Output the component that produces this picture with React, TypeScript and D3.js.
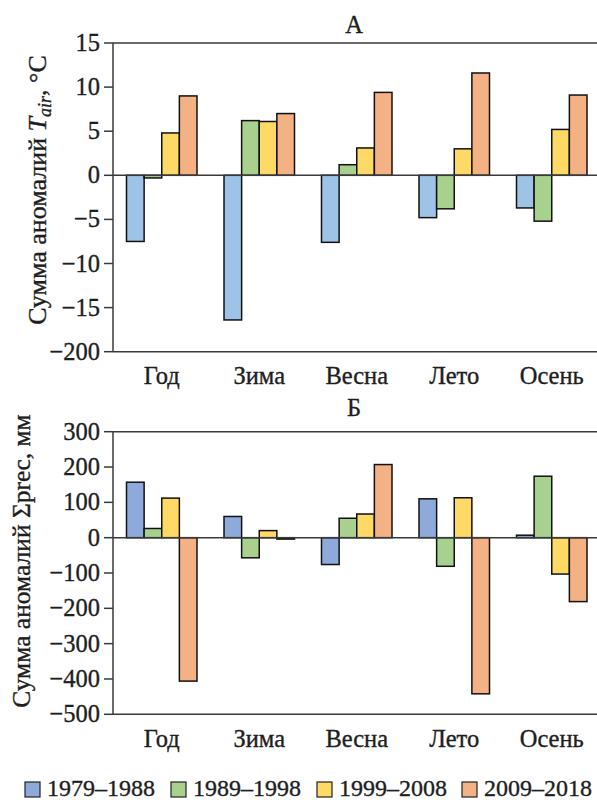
import React from "react";
import * as d3 from "d3";

const categories = ["Год", "Зима", "Весна", "Лето", "Осень"];
const periods = ["1979–1988", "1989–1998", "1999–2008", "2009–2018"];

// Panel A: sum of air temperature anomalies, °C
const tempP1 = [-7.5, -16.4, -7.6, -4.8, -3.7];
const tempP2 = [-0.3, 6.2, 1.2, -3.8, -5.2];
const tempP3 = [4.8, 6.1, 3.1, 3.0, 5.2];
const tempP4 = [9.0, 7.0, 9.4, 11.6, 9.1];
const tempTicks = [15, 10, 5, 0, -5, -10, -15, -20];
const tempTickLabels = ["15", "10", "5", "0", "−5", "−10", "−15", "−200"];

// Panel Б: sum of precipitation anomalies, mm
const precP1 = [157, 60, -76, 110, 7];
const precP2 = [26, -57, 55, -81, 174];
const precP3 = [112, 20, 67, 113, -103];
const precP4 = [-406, -4, 207, -442, -181];
const precTicks = [300, 200, 100, 0, -100, -200, -300, -400, -500];
const precTickLabels = ["300", "200", "100", "0", "−100", "−200", "−300", "−400", "−500"];

const colorsA = ["#9dc3e6", "#a9d18e", "#ffd966", "#f4b183"];
const colorsB = ["#8eaadb", "#a9d18e", "#ffd966", "#f4b183"];

const FONT = "Liberation Serif, Times New Roman, DejaVu Serif, serif";
const AXIS = "#3a3a3a";
const INK = "#1e1e1e";
const TXT = { fontFamily: FONT };
const THICK = { stroke: INK, strokeWidth: 0.35 };

type PanelProps = {
  series: number[][];
  colors: string[];
  domain: [number, number];
  top: number;
  bottom: number;
  ticks: number[];
  tickLabels: string[];
  title: string;
  titleY: number;
  catY: number;
};

const LEFT = 113;
const RIGHT = 600.5;

function TickLabel({ label, y }: { label: string; y: number }) {
  return (
    <text x={100} y={y + 8} fontSize={24.5} textAnchor="end" style={TXT} fill={INK} {...THICK}>
      {label}
    </text>
  );
}

function Panel(p: PanelProps) {
  const y = d3.scaleLinear().domain(p.domain).range([p.bottom, p.top]);
  const x0 = d3
    .scaleBand<string>()
    .domain(categories)
    .range([LEFT, RIGHT])
    .paddingInner(0.277)
    .paddingOuter(0.1385);
  const x1 = d3
    .scaleBand<number>()
    .domain(d3.range(p.series.length))
    .range([0, x0.bandwidth()]);
  const y0 = y(0);
  return (
    <g>
      <text x={354} y={p.titleY} fontSize={24.5} textAnchor="middle" style={TXT} fill={INK} {...THICK}>
        {p.title}
      </text>
      <line x1={LEFT} x2={597} y1={p.top} y2={p.top} stroke={AXIS} strokeWidth={1.5} />
      <line x1={LEFT} x2={597} y1={p.bottom} y2={p.bottom} stroke={AXIS} strokeWidth={1.5} />
      <line x1={LEFT} x2={LEFT} y1={p.top} y2={p.bottom} stroke={AXIS} strokeWidth={1.5} />
      {p.ticks.map((t, i) => (
        <g key={t}>
          <line x1={104} x2={LEFT} y1={y(t)} y2={y(t)} stroke={AXIS} strokeWidth={1.5} />
          <TickLabel label={p.tickLabels[i]} y={y(t)} />
        </g>
      ))}
      {categories.map((c, ci) => (
        <g key={c} transform={`translate(${x0(c)},0)`}>
          {p.series.map((s, si) => {
            const v = s[ci];
            const yy = Math.min(y(v), y0);
            const h = Math.abs(y(v) - y0);
            return (
              <rect
                key={si}
                x={x1(si)}
                y={yy}
                width={x1.bandwidth()}
                height={h}
                fill={p.colors[si]}
                stroke="#111"
                strokeWidth={1.5}
              />
            );
          })}
        </g>
      ))}
      <line x1={LEFT} x2={597} y1={y0} y2={y0} stroke={AXIS} strokeWidth={1.5} />
      {categories.map((c) => (
        <text
          key={c}
          x={(x0(c) as number) + x0.bandwidth() / 2}
          y={p.catY}
          fontSize={24.5}
          textAnchor="middle"
          style={TXT}
          fill={INK}
          {...THICK}
        >
          {c}
        </text>
      ))}
    </g>
  );
}

export default function App() {
  const legendX = [25, 171, 317, 462];
  return (
    <svg
      width={597}
      height={800}
      style={{ position: "absolute", left: 0, top: 0, background: "#fff" }}
    >
      <rect width={597} height={800} fill="#fff" />
      <Panel
        series={[tempP1, tempP2, tempP3, tempP4]}
        colors={colorsA}
        domain={[-20, 15]}
        top={43}
        bottom={351.7}
        ticks={tempTicks}
        tickLabels={tempTickLabels}
        title="А"
        titleY={33}
        catY={384}
      />
      <Panel
        series={[precP1, precP2, precP3, precP4]}
        colors={colorsB}
        domain={[-500, 300]}
        top={431.7}
        bottom={714.3}
        ticks={precTicks}
        tickLabels={precTickLabels}
        title="Б"
        titleY={416}
        catY={747}
      />
      <text
        transform="translate(46,190) rotate(-90)"
        fontSize={26}
        textAnchor="middle"
        style={TXT}
        fill={INK}
        {...THICK}
      >
        Сумма аномалий <tspan fontStyle="italic">T</tspan>
        <tspan fontStyle="italic" fontSize={18} dy={5}>air</tspan>
        <tspan dy={-5}>, °С</tspan>
      </text>
      <text
        transform="translate(30,561) rotate(-90)"
        fontSize={25.5}
        textAnchor="middle"
        style={TXT}
        fill={INK}
        {...THICK}
      >
        Сумма аномалий Σprec, мм
      </text>
      {periods.map((pr, i) => (
        <g key={pr}>
          <rect
            x={legendX[i]}
            y={782}
            width={15}
            height={15}
            fill={colorsB[i]}
            stroke="#222"
            strokeWidth={1.2}
          />
          <text x={legendX[i] + 22} y={796} fontSize={24} style={TXT} fill={INK} {...THICK}>
            {pr}
          </text>
        </g>
      ))}
    </svg>
  );
}
